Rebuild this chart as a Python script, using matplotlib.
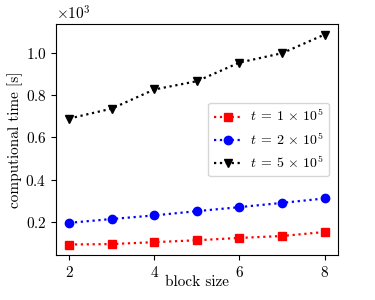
import matplotlib
matplotlib.use("Agg")
import matplotlib.pyplot as plt

plt.rcParams['font.family'] = 'serif'
plt.rcParams['font.serif'] = ['cmr10']
plt.rcParams['mathtext.fontset'] = 'cm'
plt.rcParams['axes.unicode_minus'] = False
plt.rcParams['axes.formatter.use_mathtext'] = True
plt.rcParams['font.size'] = 11

block_size = [2, 3, 4, 5, 6, 7, 8]
time_t1 = [96, 98, 107, 116, 127, 136, 155]
time_t2 = [198, 216, 233, 253, 272, 292, 313]
time_t5 = [689, 736, 826, 865, 953, 997, 1085]

fig, ax = plt.subplots(figsize=(3.75, 3.0), dpi=100)
fig.subplots_adjust(left=0.15, right=0.9, top=0.92, bottom=0.15)

ax.plot(block_size, time_t1, ':', color='red', marker='s', ms=6, lw=1.6,
        label=r'$t\:=\:1\,\times\,10^5$')
ax.plot(block_size, time_t2, ':', color='blue', marker='o', ms=6, lw=1.6,
        label=r'$t\:=\:2\,\times\,10^5$')
ax.plot(block_size, time_t5, ':', color='black', marker='v', ms=6, lw=1.6,
        label=r'$t\:=\:5\,\times\,10^5$')

ax.set_xticks([2, 4, 6, 8])
ax.ticklabel_format(style='sci', axis='y', scilimits=(0, 0), useMathText=True)
ax.set_xlabel('block size', labelpad=-3)
ax.set_ylabel('computional time [s]', labelpad=2)
ax.legend(loc='center right', fontsize=10, handletextpad=0.6,
          borderaxespad=0.6)

plt.savefig('out.png')
